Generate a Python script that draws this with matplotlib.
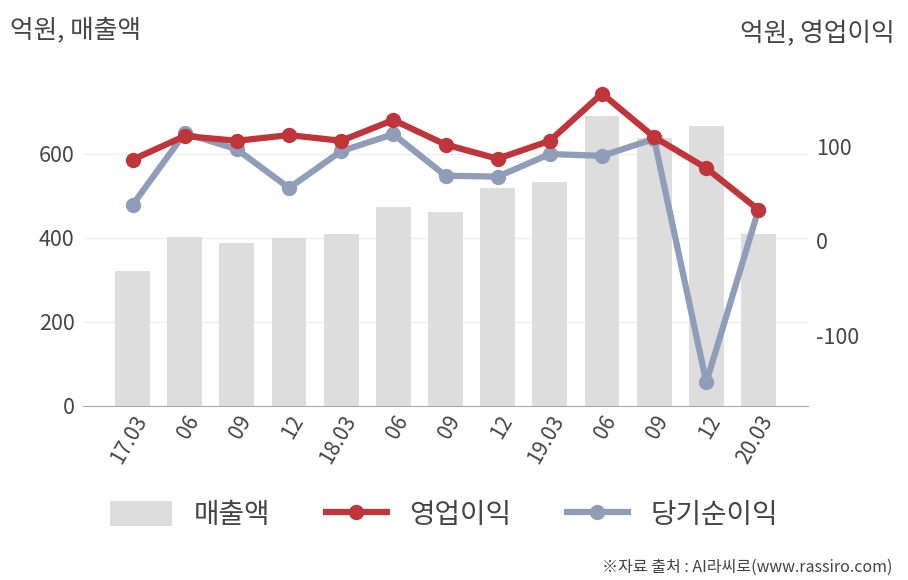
import matplotlib
matplotlib.use("Agg")
import matplotlib.pyplot as plt
from matplotlib.patches import Patch
from matplotlib.lines import Line2D

plt.rcParams['font.family'] = ['Noto Sans CJK KR', 'DejaVu Sans']
plt.rcParams['axes.unicode_minus'] = False

quarters = ['17.03', '06', '09', '12', '18.03', '06', '09', '12', '19.03', '06', '09', '12', '20.03']
sales = [321, 402, 388, 400, 410, 474, 462, 519, 533, 690, 638, 667, 410]
op_profit = [86, 111, 106, 112, 106, 128, 102, 87, 106, 156, 110, 77, 33]
net_income = [38, 114, 97, 56, 95, 113, 69, 68, 92, 90, 108, -150, 33]

bar_color = '#dddddd'
red = '#c0353a'
blue = '#909db9'
text_color = '#444444'

fig = plt.figure(figsize=(9.08, 5.8), dpi=100)
ax = fig.add_axes([83/908, 1-406/580, (808-83)/908, (406-70)/580])
x = list(range(len(quarters)))
ax.bar(x, sales, width=0.67, color=bar_color, zorder=2)
ax.set_xlim(-0.95, 12.95)
ax.set_ylim(0, 800)
ax.set_yticks([0, 200, 400, 600])
ax.grid(axis='y', color='#eeeeee', linewidth=1, zorder=0)
ax.set_axisbelow(True)
for s in ['top', 'right', 'left']:
    ax.spines[s].set_visible(False)
ax.spines['bottom'].set_color('#aaaaaa')
ax.tick_params(axis='y', length=0, labelsize=15.5, labelcolor=text_color, pad=6)
ax.tick_params(axis='x', length=0, labelsize=15, labelcolor=text_color, pad=4)
ax.set_xticks(x)
ax.set_xticklabels(quarters, rotation=60, ha='right', va='top', rotation_mode='anchor')

ax2 = ax.twinx()
ax2.plot(x, net_income, color=blue, linewidth=4.5, marker='o', markersize=10, zorder=3)
ax2.plot(x, op_profit, color=red, linewidth=4.5, marker='o', markersize=10, zorder=4)
ax2.set_ylim(-175, 181)
ax2.set_yticks([-100, 0, 100])
for s in ['top', 'right', 'left', 'bottom']:
    ax2.spines[s].set_visible(False)
ax2.tick_params(axis='y', length=0, labelsize=15.5, labelcolor=text_color, pad=6)

fig.text(10/908, 1-30/580, '억원, 매출액', fontsize=18.5, color=text_color, ha='left', va='center')
fig.text(895/908, 1-34/580, '억원, 영업이익', fontsize=18.5, color=text_color, ha='right', va='center')

handles = [Patch(facecolor=bar_color, edgecolor='none'),
           Line2D([0], [0], color=red, linewidth=4.5, marker='o', markersize=10),
           Line2D([0], [0], color=blue, linewidth=4.5, marker='o', markersize=10)]
fig.legend(handles, ['매출액', '영업이익', '당기순이익'], loc='center', bbox_to_anchor=(444/908, 1-515/580),
           ncol=3, frameon=False, fontsize=20, handlelength=2.2, handleheight=1.0,
           columnspacing=2.0, handletextpad=0.8, labelcolor=text_color)

fig.text(893/908, 1-567/580, '※자료 출처 : AI라씨로(www.rassiro.com)', fontsize=11.5, color=text_color, ha='right', va='center')

fig.savefig('out.png', dpi=100)
